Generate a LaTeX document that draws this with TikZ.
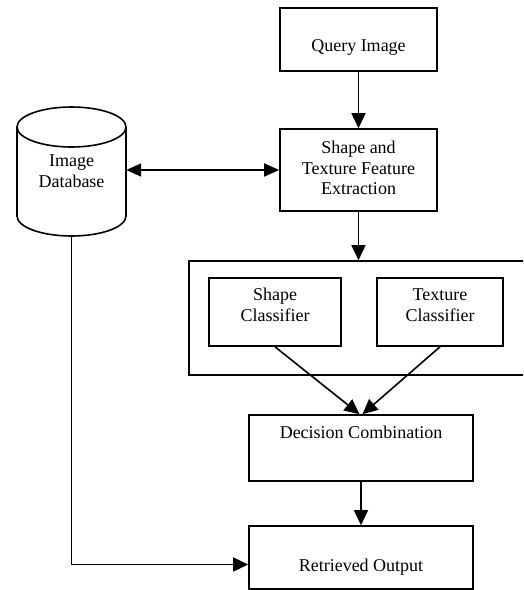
\documentclass[tikz,border=0pt]{standalone}
\usepackage{fontspec}
\setmainfont{Liberation Serif}
\usetikzlibrary{arrows.meta}
\begin{document}
\begin{tikzpicture}[x=1pt,y=1pt,
  every node/.style={font=\fontsize{18}{20.7}\selectfont},
  box/.style={draw, line width=1.6pt, inner sep=0pt},
  txt/.style={align=center, inner sep=0pt},
  conn/.style={line width=1.6pt, -{Triangle[length=15pt,width=14pt]}},
  dconn/.style={line width=1.6pt, {Triangle[length=15pt,width=13pt]}-{Triangle[length=15pt,width=13pt]}}]
\clip (0,0) rectangle (523,-590);
\useasboundingbox (0,0) rectangle (523,-590);
% boxes
\node[box, minimum width=157pt, minimum height=63pt] (q) at (358.5,-39.5) {};
\node[txt] (qt) at ([yshift=-8pt]q.center) {Query Image};
\node[box, minimum width=157pt, minimum height=82pt] (fe) at (358.5,-170) {};
\node[txt] (fet) at ([yshift=2pt]fe.center) {Shape and\\Texture Feature\\Extraction};
\node[box, minimum width=345pt, minimum height=114pt] (grp) at (361.5,-318) {};
\node[box, minimum width=132pt, minimum height=68pt] (sc) at (275,-312) {};
\node[txt] (sct) at ([yshift=7pt]sc.center) {Shape\\Classifier};
\node[box, minimum width=126pt, minimum height=68pt] (tc) at (440,-312) {};
\node[txt] (tct) at ([yshift=7pt]tc.center) {Texture\\Classifier};
\node[box, minimum width=224pt, minimum height=66pt] (dc) at (361,-448) {};
\node[txt] (dct) at ([yshift=16pt]dc.center) {Decision Combination};
\node[box, minimum width=224pt, minimum height=63pt] (ro) at (361,-557.5) {};
\node[txt] (rot) at ([yshift=-10pt]ro.center) {Retrieved Output};
% cylinder
\draw[line width=1.6pt] (71.5,-127) ellipse [x radius=54.5, y radius=20];
\draw[line width=1.6pt] (17,-127) -- (17,-216) arc[start angle=180, end angle=360, x radius=54.5, y radius=20] -- (126,-127);
\node[minimum width=109pt, minimum height=129pt, inner sep=0pt] (db) at (71.5,-171.5) {};
\node[txt] (dbt) at (db.center) {Image\\Database};
% connectors
\draw[conn] (q.south) -- (fe.north);
\draw[dconn] (db.east |- fe.west) -- (fe.west);
\draw[conn] (fe.south) -- (fe.south |- grp.north);
\draw[conn] (sc.south) -- ([xshift=-1.5pt]dc.north);
\draw[conn] (tc.south) -- ([xshift=1.5pt]dc.north);
\draw[conn] (dc.south) -- (ro.north);
\draw[conn] (db.south) |- ([yshift=-7pt]ro.west);
\end{tikzpicture}
\end{document}
